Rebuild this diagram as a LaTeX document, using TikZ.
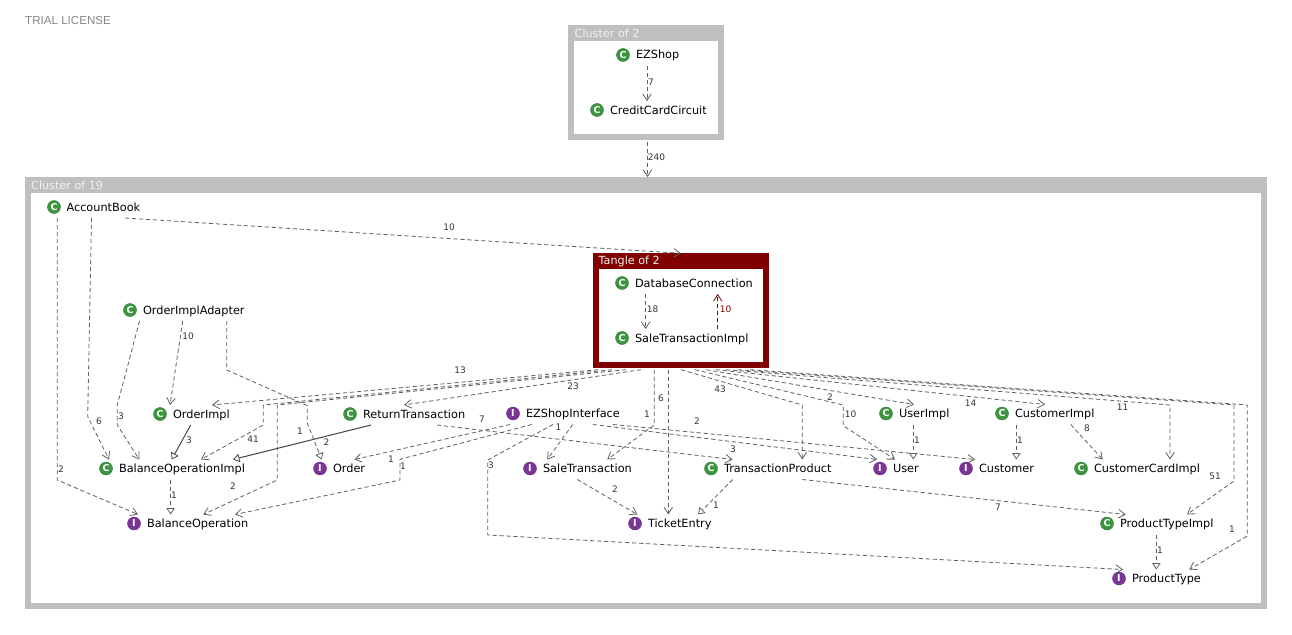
\documentclass[tikz,border=0pt]{standalone}
\usepackage{fontspec}
\setmainfont{DejaVu Sans}
\newfontfamily\trialfont{Liberation Sans}
\usetikzlibrary{arrows.meta}
\definecolor{clgrey}{HTML}{BFBFBF}
\definecolor{tanglered}{HTML}{800000}
\definecolor{edgegrey}{HTML}{606060}
\definecolor{labgrey}{HTML}{333333}
\definecolor{icongreen}{HTML}{3B963F}
\definecolor{iconpurple}{HTML}{7A3596}
\tikzset{
  x=1pt,y=-1pt,
  framebox/.style={rectangle,draw=none,fill=#1,inner sep=0pt,outer sep=0pt},
  frametitle/.style={anchor=west,inner sep=0pt,text=white!94!black,font=\fontsize{11.2}{13}\selectfont},
  cname/.style={anchor=west,rectangle,inner sep=0pt,outer sep=0pt,minimum height=20pt,text height=8pt,text depth=2pt,text=black,font=\fontsize{11.3}{13}\selectfont},
  iconbase/.style={circle,inner sep=0pt,minimum size=13pt,fill=#1,draw=#1!80!black,line width=.4pt,text=white,font=\fontsize{9.5}{10}\selectfont\bfseries},
  lab/.style={inner sep=0pt,text=labgrey,font=\fontsize{9}{11}\selectfont},
  redlab/.style={inner sep=0pt,text=tanglered,font=\fontsize{9}{11}\selectfont},
  conn/.style={draw=edgegrey,line width=.8pt},
  dep/.style={conn,dash pattern=on 4.2pt off 2.8pt,-{Straight Barb[length=6.5pt,width=8.5pt,line width=.8pt]}},
  ext/.style={conn,dash pattern=on 4.2pt off 2.8pt,-{Triangle[open,length=6.5pt,width=8.5pt,line width=.8pt,fill=white]}},
  real/.style={draw=edgegrey!75!black,line width=1pt,-{Triangle[open,length=6.5pt,width=8.5pt,line width=.8pt,fill=white]}},
  reddep/.style={draw=tanglered,line width=.8pt,dash pattern=on 4.2pt off 2.8pt,-{Straight Barb[length=6.5pt,width=8.5pt,line width=.8pt]}},
}
\newcommand{\cnode}[5]{% name, iconx, textx, y, text
  \node[iconbase=icongreen] (#1-icon) at (#2,#4) {C};
  \node[cname] (#1) at (#3,#4+1) {#5};}
\newcommand{\inode}[5]{%
  \node[iconbase=iconpurple] (#1-icon) at (#2,#4) {I};
  \node[cname] (#1) at (#3,#4+1) {#5};}
\newcommand{\lbl}[4]{\node[lab] (#1) at (#2,#3) {#4};}
\begin{document}
\begin{tikzpicture}
\useasboundingbox (0,0) rectangle (1292,634);
\fill[white] (0,0) rectangle (1292,634);
\node[anchor=west,inner sep=0pt,text=black!47,font=\trialfont\fontsize{11.6}{13}\selectfont] (trial) at (25,20.5) {TRIAL LICENSE};

% frames
\node[framebox=clgrey,minimum width=156pt,minimum height=115pt] (cluster2) at (646,82.5) {};
\node[framebox=white,minimum width=144pt,minimum height=93pt] (cluster2-in) at (646,87.5) {};
\node[frametitle] (cluster2-title) at (574.5,33) {Cluster of 2};
\node[framebox=clgrey,minimum width=1241.5pt,minimum height=432pt] (cluster19) at (645.75,393) {};
\node[framebox=white,minimum width=1229.5pt,minimum height=410pt] (cluster19-in) at (645.75,398) {};
\node[frametitle] (cluster19-title) at (31,185) {Cluster of 19};
\node[framebox=tanglered,minimum width=175.7pt,minimum height=114.4pt] (tangle) at (680.85,310.5) {};
\node[framebox=white,minimum width=164pt,minimum height=92.7pt] (tangle-in) at (681,315.35) {};
\node[frametitle] (tangle-title) at (598.5,261) {Tangle of 2};
\coordinate (tanglefoot) at ([yshift=-2pt]tangle.south);

% classes
\cnode{EZShop}{623}{636}{55}{EZShop}
\cnode{CreditCardCircuit}{597}{610}{110}{CreditCardCircuit}
\cnode{AccountBook}{54}{66.5}{207}{AccountBook}
\cnode{OrderImplAdapter}{130}{143}{310}{OrderImplAdapter}
\cnode{DatabaseConnection}{622}{635}{283}{DatabaseConnection}
\cnode{SaleTransactionImpl}{622}{635}{338}{SaleTransactionImpl}
\cnode{OrderImpl}{160}{173}{414}{OrderImpl}
\cnode{ReturnTransaction}{350}{363}{414}{ReturnTransaction}
\inode{EZShopInterface}{513}{526}{413.5}{EZShopInterface}
\cnode{UserImpl}{886}{899}{413.5}{UserImpl}
\cnode{CustomerImpl}{1002}{1015}{413.5}{CustomerImpl}
\cnode{BalanceOperationImpl}{106}{119}{468.5}{BalanceOperationImpl}
\inode{Order}{320}{333}{468.5}{Order}
\inode{SaleTransaction}{530}{543}{468.5}{SaleTransaction}
\cnode{TransactionProduct}{711}{724}{468.5}{TransactionProduct}
\inode{User}{880}{893}{468.5}{User}
\inode{Customer}{966}{979}{468.5}{Customer}
\cnode{CustomerCardImpl}{1081}{1094}{468.5}{CustomerCardImpl}
\inode{BalanceOperation}{134}{147}{523.5}{BalanceOperation}
\inode{TicketEntry}{635}{648}{523.5}{TicketEntry}
\cnode{ProductTypeImpl}{1107}{1120}{523.5}{ProductTypeImpl}
\inode{ProductType}{1119}{1132}{578.5}{ProductType}

% connectors: upper cluster
\draw[dep] (EZShop.south -| 647,0) -- (CreditCardCircuit.north -| 647,0);
\draw[dep,shorten <=1.5pt] (cluster2.south -| 647.5,0) -- (cluster19.north -| 647.5,0);
% AccountBook
\draw[dep] (AccountBook.south -| 125,0) -- (tangle.north -| 681,0);
\draw[dep] (AccountBook.south -| 91.5,0) -- (87.7,416.7) -- (BalanceOperationImpl.north -| 109,0);
\draw[dep] (AccountBook.south -| 57.3,0) -- (57.3,480) -- (BalanceOperation.north -| 138,0);
% OrderImplAdapter
\draw[dep] (OrderImplAdapter.south -| 139.5,0) -- (117.3,405) -- (117.3,425) -- (BalanceOperationImpl.north -| 139.3,0);
\draw[dep] (OrderImplAdapter.south -| 182.7,0) -- (OrderImpl.north -| 170,0);
\draw[ext] (OrderImplAdapter.south -| 226.7,0) -- (226.7,370) -- (307.3,405.7) -- (307.3,423) -- (Order.north -| 321.7,0);
% inheritance
\draw[real] (OrderImpl.south -| 190.7,0) -- (BalanceOperationImpl.north -| 171.7,0);
\draw[real] (ReturnTransaction.south -| 371,0) -- (BalanceOperationImpl.north -| 233,0);
\draw[ext] (BalanceOperationImpl.south -| 170.6,0) -- (BalanceOperation.north -| 170.6,0);
% tangle inside
\draw[dep] (DatabaseConnection.south -| 645.7,0) -- (SaleTransactionImpl.north -| 645.7,0);
\draw[reddep] (SaleTransactionImpl.north -| 717.7,0) -- (DatabaseConnection.south -| 717.7,0);
% tangle fan, left
\draw[dep] (tanglefoot -| 598,0) -- (OrderImpl.north -| 212,0);
\draw[dep] (tanglefoot -| 641,0) -- (ReturnTransaction.north -| 404,0);
\draw[dep] (tanglefoot -| 612,0) -- (263.3,405) -- (263.3,425) -- (BalanceOperationImpl.north -| 201,0);
\draw[dep] (tanglefoot -| 626,0) -- (277.3,405) -- (277.3,480) -- (BalanceOperation.north -| 203.3,0);
% tangle downwards
\draw[dep] (tanglefoot -| 654.3,0) -- (654.3,425) -- (SaleTransaction.north -| 607.3,0);
\draw[dep] (tanglefoot -| 668.3,0) -- (TicketEntry.north -| 668.3,0);
\draw[dep] (tanglefoot -| 681,0) -- (802.3,405) -- (TransactionProduct.north -| 802.3,0);
\draw[dep] (tanglefoot -| 695,0) -- (843.3,405) -- (843.3,425.7) -- (User.north -| 895,0);
\draw[dep] (tanglefoot -| 706,0) -- (UserImpl.north -| 914,0);
\draw[dep] (tanglefoot -| 716,0) -- (CustomerImpl.north -| 1045,0);
\draw[dep] (tanglefoot -| 726,0) -- (1170,405) -- (CustomerCardImpl.north -| 1170,0);
\draw[dep] (tanglefoot -| 738,0) -- (1234,405) -- (1234,481) -- (ProductTypeImpl.north -| 1187,0);
\draw[dep] (tanglefoot -| 750,0) -- (1247.3,405) -- (1247.3,536) -- (ProductType.north -| 1189.3,0);
% EZShopInterface
\draw[dep] (EZShopInterface.south -| 510,0) -- (Order.north -| 354.3,0);
\draw[dep] (EZShopInterface.south -| 531.7,0) -- (400,459.3) -- (400,480) -- (BalanceOperation.north -| 235,0);
\draw[dep] (EZShopInterface.south -| 553,0) -- (487.7,460) -- (487.7,535) -- (ProductType.north -| 1123,0);
\draw[dep] (EZShopInterface.south -| 572.7,0) -- (SaleTransaction.north -| 547.3,0);
\draw[dep] (EZShopInterface.south -| 593,0) -- (User.north -| 877,0);
\draw[dep] (EZShopInterface.south -| 613,0) -- (Customer.north -| 975,0);
% others
\draw[dep] (ReturnTransaction.south -| 437,0) -- (TransactionProduct.north -| 732.7,0);
\draw[ext] (TransactionProduct.south -| 732.7,0) -- (TicketEntry.north -| 698,0);
\draw[dep] (SaleTransaction.south -| 577.3,0) -- (TicketEntry.north -| 637.3,0);
\draw[dep] (TransactionProduct.south -| 802.3,0) -- (ProductTypeImpl.north -| 1125.7,0);
\draw[ext] (UserImpl.south -| 913.3,0) -- (User.north -| 913.3,0);
\draw[ext] (CustomerImpl.south -| 1016.3,0) -- (Customer.north -| 1016.3,0);
\draw[dep] (CustomerImpl.south -| 1070.7,0) -- (CustomerCardImpl.north -| 1102.7,0);
\draw[ext] (ProductTypeImpl.south -| 1156.3,0) -- (ProductType.north -| 1156.3,0);

% labels
\lbl{l01}{651}{82}{7}
\lbl{l02}{656.5}{157}{240}
\lbl{l03}{449}{227}{10}
\lbl{l04}{99}{421.5}{6}
\lbl{l05}{61}{469}{2}
\lbl{l06}{121}{416}{3}
\lbl{l07}{188}{336.5}{10}
\lbl{l08}{326.5}{442}{2}
\lbl{l09}{189}{440.5}{3}
\lbl{l10}{300}{431.5}{1}
\lbl{l11}{174}{495.5}{1}
\lbl{l12}{652.5}{309.5}{18}
\node[redlab] (l13) at (725.5,309.5) {10};
\lbl{l14}{460}{370.5}{13}
\lbl{l15}{573}{386.5}{23}
\lbl{l16}{253}{439.5}{41}
\lbl{l17}{233}{486.5}{2}
\lbl{l18}{661}{398.5}{6}
\lbl{l19}{647}{414.5}{1}
\lbl{l20}{720}{389.5}{43}
\lbl{l21}{830}{397.5}{2}
\lbl{l22}{850.5}{414.5}{10}
\lbl{l23}{970.5}{403.5}{14}
\lbl{l24}{1122.5}{407.5}{11}
\lbl{l25}{1215}{476.5}{51}
\lbl{l26}{1232}{529.5}{1}
\lbl{l27}{391}{459}{1}
\lbl{l28}{403}{466}{1}
\lbl{l29}{491}{465.5}{3}
\lbl{l30}{558.5}{427}{1}
\lbl{l31}{697}{421.5}{2}
\lbl{l32}{482}{419.5}{7}
\lbl{l33}{733}{449.5}{3}
\lbl{l34}{716}{505.5}{1}
\lbl{l35}{615}{489.5}{2}
\lbl{l36}{998}{507.5}{7}
\lbl{l37}{917}{440.5}{1}
\lbl{l38}{1020}{440.5}{1}
\lbl{l39}{1087}{428.5}{8}
\lbl{l40}{1160}{550.5}{1}
\end{tikzpicture}
\end{document}
